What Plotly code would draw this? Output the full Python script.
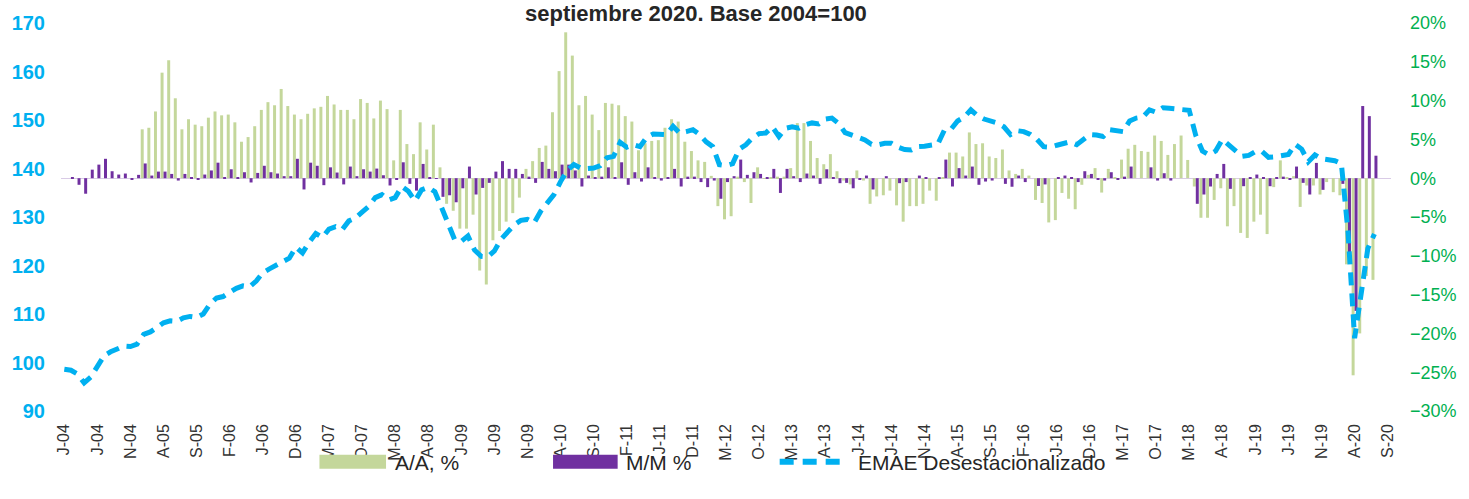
import plotly.graph_objects as go
import pandas as pd

# Categories: monthly, Jan 2004 - Sep 2020
months = [d.strftime("%Y-%m") for d in pd.date_range("2004-01-01", "2020-09-01", freq="MS")]

tick_labels = ["J-04", "J-04", "N-04", "A-05", "S-05", "F-06", "J-06", "D-06", "M-07", "O-07",
               "M-08", "A-08", "J-09", "J-09", "N-09", "A-10", "S-10", "F-11", "J-11", "D-11",
               "M-12", "O-12", "M-13", "A-13", "J-14", "J-14", "N-14", "A-15", "S-15", "F-16",
               "J-16", "D-16", "M-17", "O-17", "M-18", "A-18", "J-19", "J-19", "N-19", "A-20", "S-20"]

# EMAE desestacionalizado (base 2004=100), Jan 2004 - Jul 2020
emae = [98.6, 98.4, 97.6, 95.8, 97.0, 99.3, 101.4, 102.2, 102.8, 103.4, 103.3, 103.8,
        105.8, 106.3, 107.2, 108.2, 108.6, 108.5, 109.2, 109.5, 109.3, 110.0, 112.0, 113.3,
        113.6, 114.6, 115.3, 115.8, 115.6, 116.8, 118.5, 119.3, 120.0, 120.6, 121.5, 123.8,
        122.6, 124.8, 126.6, 125.8, 127.5, 128.0, 127.4, 129.2, 129.8, 131.0, 132.2, 134.0,
        134.6, 133.5, 134.0, 136.3, 135.3, 133.3, 135.6, 136.1, 135.2, 132.0, 128.5, 125.3,
        125.0, 126.1, 123.2, 121.9, 121.8, 123.0, 125.4, 126.8, 128.4, 129.3, 129.5, 128.8,
        131.2, 132.9, 134.6, 137.3, 139.6, 140.8, 140.1, 140.0, 140.1, 140.6, 142.2, 142.5,
        145.4, 144.4, 144.9, 144.5, 146.4, 147.1, 147.0, 147.0, 148.7, 147.3, 147.6, 148.0,
        147.0, 145.5, 144.5, 140.8, 140.6, 141.0, 144.0, 144.9, 146.3, 147.2, 147.3, 148.6,
        146.6, 148.3, 148.6, 148.3, 149.0, 149.4, 149.2, 150.2, 150.4, 149.3, 147.4, 146.9,
        146.6, 145.9, 145.0, 144.9, 145.2, 145.2, 144.4, 143.9, 143.8, 144.5, 144.6, 144.8,
        145.0, 147.9, 148.1, 149.8, 150.6, 152.1, 150.9, 150.2, 149.7, 149.4, 148.6, 147.0,
        147.8, 147.6, 147.0, 146.0, 144.5, 144.4, 144.8, 145.2, 145.5, 144.9, 146.0, 147.0,
        146.9, 146.6, 148.0, 147.8, 147.6, 149.8, 150.4, 150.6, 152.1, 151.6, 152.5, 152.4,
        152.3, 152.2, 152.0, 146.8, 143.6, 142.8, 143.6, 146.0, 144.9, 143.6, 142.5, 142.7,
        143.5, 143.5, 142.3, 142.4, 142.6, 142.9, 145.0, 144.0, 141.4, 142.8, 142.0, 141.9,
        141.6, 141.0, 127.0, 105.0, 115.2, 123.5, 126.5, None, None]

# Variacion interanual (A/A, %)
aa = [None] * 12 + [
    6.3, 6.5, 8.6, 13.6, 15.2, 10.3, 6.3, 7.6, 6.9, 6.7, 7.8, 8.6,
    8.1, 8.2, 7.2, 4.7, 5.3, 6.7, 8.8, 9.8, 9.4, 11.5, 9.3, 8.2,
    7.6, 8.3, 9.0, 9.2, 10.6, 9.5, 8.8, 8.8, 7.6, 10.2, 9.7, 7.7,
    10.0, 8.9, 2.3, 8.8, 4.4, 3.1, 7.2, 3.7, 6.9, 1.4, -3.3, -4.2,
    -6.5, -6.5, -4.7, -11.9, -13.7, -8.0, -6.8, -5.6, -4.5, -2.5, 1.2, 2.2,
    3.9, 4.2, 8.5, 13.8, 18.8, 15.8, 9.4, 10.6, 8.2, 6.2, 9.7, 9.6,
    9.4, 8.0, 7.3, 3.6, 4.5, 4.8, 4.9, 6.5, 7.6, 7.3, 4.7, 3.5,
    2.3, 2.1, 0.3, -3.6, -5.3, -4.9, 0.2, -0.5, -3.2, 1.4, -0.1, 0.1,
    0.2, 0.2, 1.3, 7.1, 7.1, 4.8, 2.6, 1.8, 3.1, 0.9, -0.3, -0.8,
    1.0, -0.3, -3.3, -2.35, -2.2, -1.6, -3.5, -5.6, -3.6, -3.6, -3.3, -1.6,
    -2.9, 0.1, 3.3, 3.3, 2.8, 5.9, 4.4, 4.5, 2.8, 2.6, 3.7, 1.0,
    0.55, 1.2, 0.34, -2.8, -3.2, -5.7, -5.4, -1.9, -2.65, -4.0, -0.85, 0.43,
    1.3, -1.85, 1.2, 0.1, 2.4, 3.8, 4.3, 3.5, 3.4, 5.5, 4.8, 3.0,
    4.4, 5.5, 2.35, -1.07, -5.1, -5.1, -2.8, -1.3, -6.2, -3.6, -7.05, -7.7,
    -5.6, -4.7, -7.2, -1.15, 2.3, 0.1, 0.26, -3.7, -0.94, -0.94, -2.1, -0.5,
    -1.8, -2.2, -11.1, -25.4, -20.0, -12.6, -13.1, None, None]

# Variacion mensual (M/M %)
mm = [None,
      0.05, -0.85, -2.0, 1.1, 1.75, 2.5, 0.9, 0.47, 0.6, -0.2, 0.43,
      1.9, 0.34, 0.85, 0.85, 0.55, -0.3, 0.55, 0.13, -0.17, 0.47, 1.0, 2.0,
      0.05, 1.15, 0.1, 0.77, -0.55, 0.68, 1.6, 0.77, 0.6, 0.26, 0.26, 2.5,
      -1.45, 2.0, 1.6, -0.9, 1.4, 0.73, -0.8, 1.5, 0.26, 1.15, 0.85, 1.24,
      0.38, -0.94, -0.15, 2.05, -0.73, -1.6, 1.84, 0.05, -0.1, -2.4, -2.2, -3.1,
      -1.3, 1.5, -2.1, -1.25, -0.6, 0.85, 2.2, 1.2, 1.2, 0.55, 0.2, -0.6,
      2.1, 1.2, 0.9, 1.75, 1.75, 1.0, -1.07, 0.34, 0.1, 0.2, 1.4, 0.1,
      2.05, -0.85, 0.77, -0.43, 1.4, 0.1, -0.3, 0.05, 1.2, -1.07, 0.2, 0.2,
      -0.5, -1.15, -0.3, -2.65, -0.5, 0.26, 2.4, 0.43, 0.77, 0.55, 0.05, 1.2,
      -1.9, 1.2, 0.26, -0.5, 0.6, 0.34, -0.73, 1.15, 0.13, -0.64, -0.6, -1.3,
      -0.2, 0.34, -1.45, 0.0, 0.26, 0.0, -0.64, -0.5, 0.0, 0.34, 0.13, 0.0,
      0.1, 2.4, -1.07, 1.3, 0.34, 1.5, -0.85, -0.43, -0.3, 0.0, -0.73, -1.1,
      0.34, -0.5, 0.0, -1.0, -0.8, 0.0, 0.1, 0.34, 0.1, -0.5, 0.9, 0.55,
      -0.2, -0.3, 0.77, -0.15, 0.2, 1.5, 0.0, 0.0, 1.4, -0.3, 0.64, -0.3,
      0.0, 0.0, 0.0, -3.3, -2.1, -1.07, 0.55, 1.84, -1.37, 0.0, -1.03, 0.13,
      0.47, 0.13, -1.03, 0.1, 0.2, -0.2, 1.5, -0.6, -2.1, 1.97, -1.5, 0.0,
      0.0, -0.73, -9.8, -17.1, 9.3, 8.0, 2.9, None, None]

FONT = "Liberation Sans, Arial, sans-serif"
GREEN = "#C4D79B"
PURPLE = "#7030A0"
BLUE = "#00B0F0"

fig = go.Figure()
fig.add_trace(go.Bar(x=months, y=aa, name="A/A, %", marker=dict(color=GREEN, line=dict(width=0)),
                     yaxis="y"))
fig.add_trace(go.Bar(x=months, y=mm, name="M/M %", marker=dict(color=PURPLE, line=dict(width=0)),
                     yaxis="y"))
fig.add_trace(go.Scatter(x=months, y=emae, name="EMAE Desestacionalizado", mode="lines",
                         line=dict(color=BLUE, width=5, dash="13px,8px"), yaxis="y2",
                         connectgaps=False))

W, H = 1469, 499
L, R, T, B = 58, 73, 21, 88
pw, ph = W - L - R, H - T - B


def px(xp):
    return (xp - L) / pw


def py(yp):
    return (H - B - yp) / ph


fig.update_layout(
    width=W, height=H,
    margin=dict(l=L, r=R, t=T, b=B),
    paper_bgcolor="white", plot_bgcolor="white",
    barmode="group", bargap=0.1, bargroupgap=0.0,
    showlegend=False,
    font=dict(family=FONT, color="#262626"),
    xaxis=dict(type="category", categoryorder="array", categoryarray=months,
               tickmode="array", tickvals=months[::5], ticktext=tick_labels,
               tickangle=-90, tickfont=dict(size=16, color="#333333", family=FONT),
               ticklabelstandoff=9,
               showgrid=False, showline=False, ticks="", zeroline=False),
    yaxis=dict(side="right", range=[-30, 20], dtick=5, ticksuffix="%",
               tickfont=dict(size=18, color="#00B050", family=FONT),
               ticklabelstandoff=18,
               showgrid=False, showline=False, ticks="",
               zeroline=True, zerolinecolor="#D9CBE6", zerolinewidth=1),
    yaxis2=dict(side="left", overlaying="y", range=[90, 170], dtick=10,
                tickfont=dict(size=20, color=BLUE, family=FONT, weight="bold"),
                ticklabelstandoff=15,
                showgrid=False, showline=False, ticks="", zeroline=False),
)

# Title (kept fully inside the frame)
fig.add_annotation(text="<b>septiembre 2020. Base 2004=100</b>", xref="paper", yref="paper",
                   x=px(697), y=py(11), xanchor="center", yanchor="middle", showarrow=False,
                   font=dict(size=22, color="#262626", family=FONT))

# Custom legend
ly = 462
fig.add_shape(type="rect", xref="paper", yref="paper", x0=px(318), x1=px(385),
              y0=py(469), y1=py(455), fillcolor=GREEN, line=dict(width=0))
fig.add_shape(type="rect", xref="paper", yref="paper", x0=px(553), x1=px(618),
              y0=py(469), y1=py(455), fillcolor=PURPLE, line=dict(width=0))
fig.add_shape(type="line", xref="paper", yref="paper", x0=px(781), x1=px(846),
              y0=py(ly), y1=py(ly), line=dict(color=BLUE, width=6, dash="14px,9px"))
for txt, xp in [("A/A, %", 392), ("M/M %", 624), ("EMAE Desestacionalizado", 858)]:
    fig.add_annotation(text=txt, xref="paper", yref="paper", x=px(xp), y=py(ly + 1),
                       xanchor="left", yanchor="middle", showarrow=False,
                       font=dict(size=21, color="#262626", family=FONT))

fig.write_html("out.html", config={"displayModeBar": False},
               post_script="document.body.style.margin='0';")
